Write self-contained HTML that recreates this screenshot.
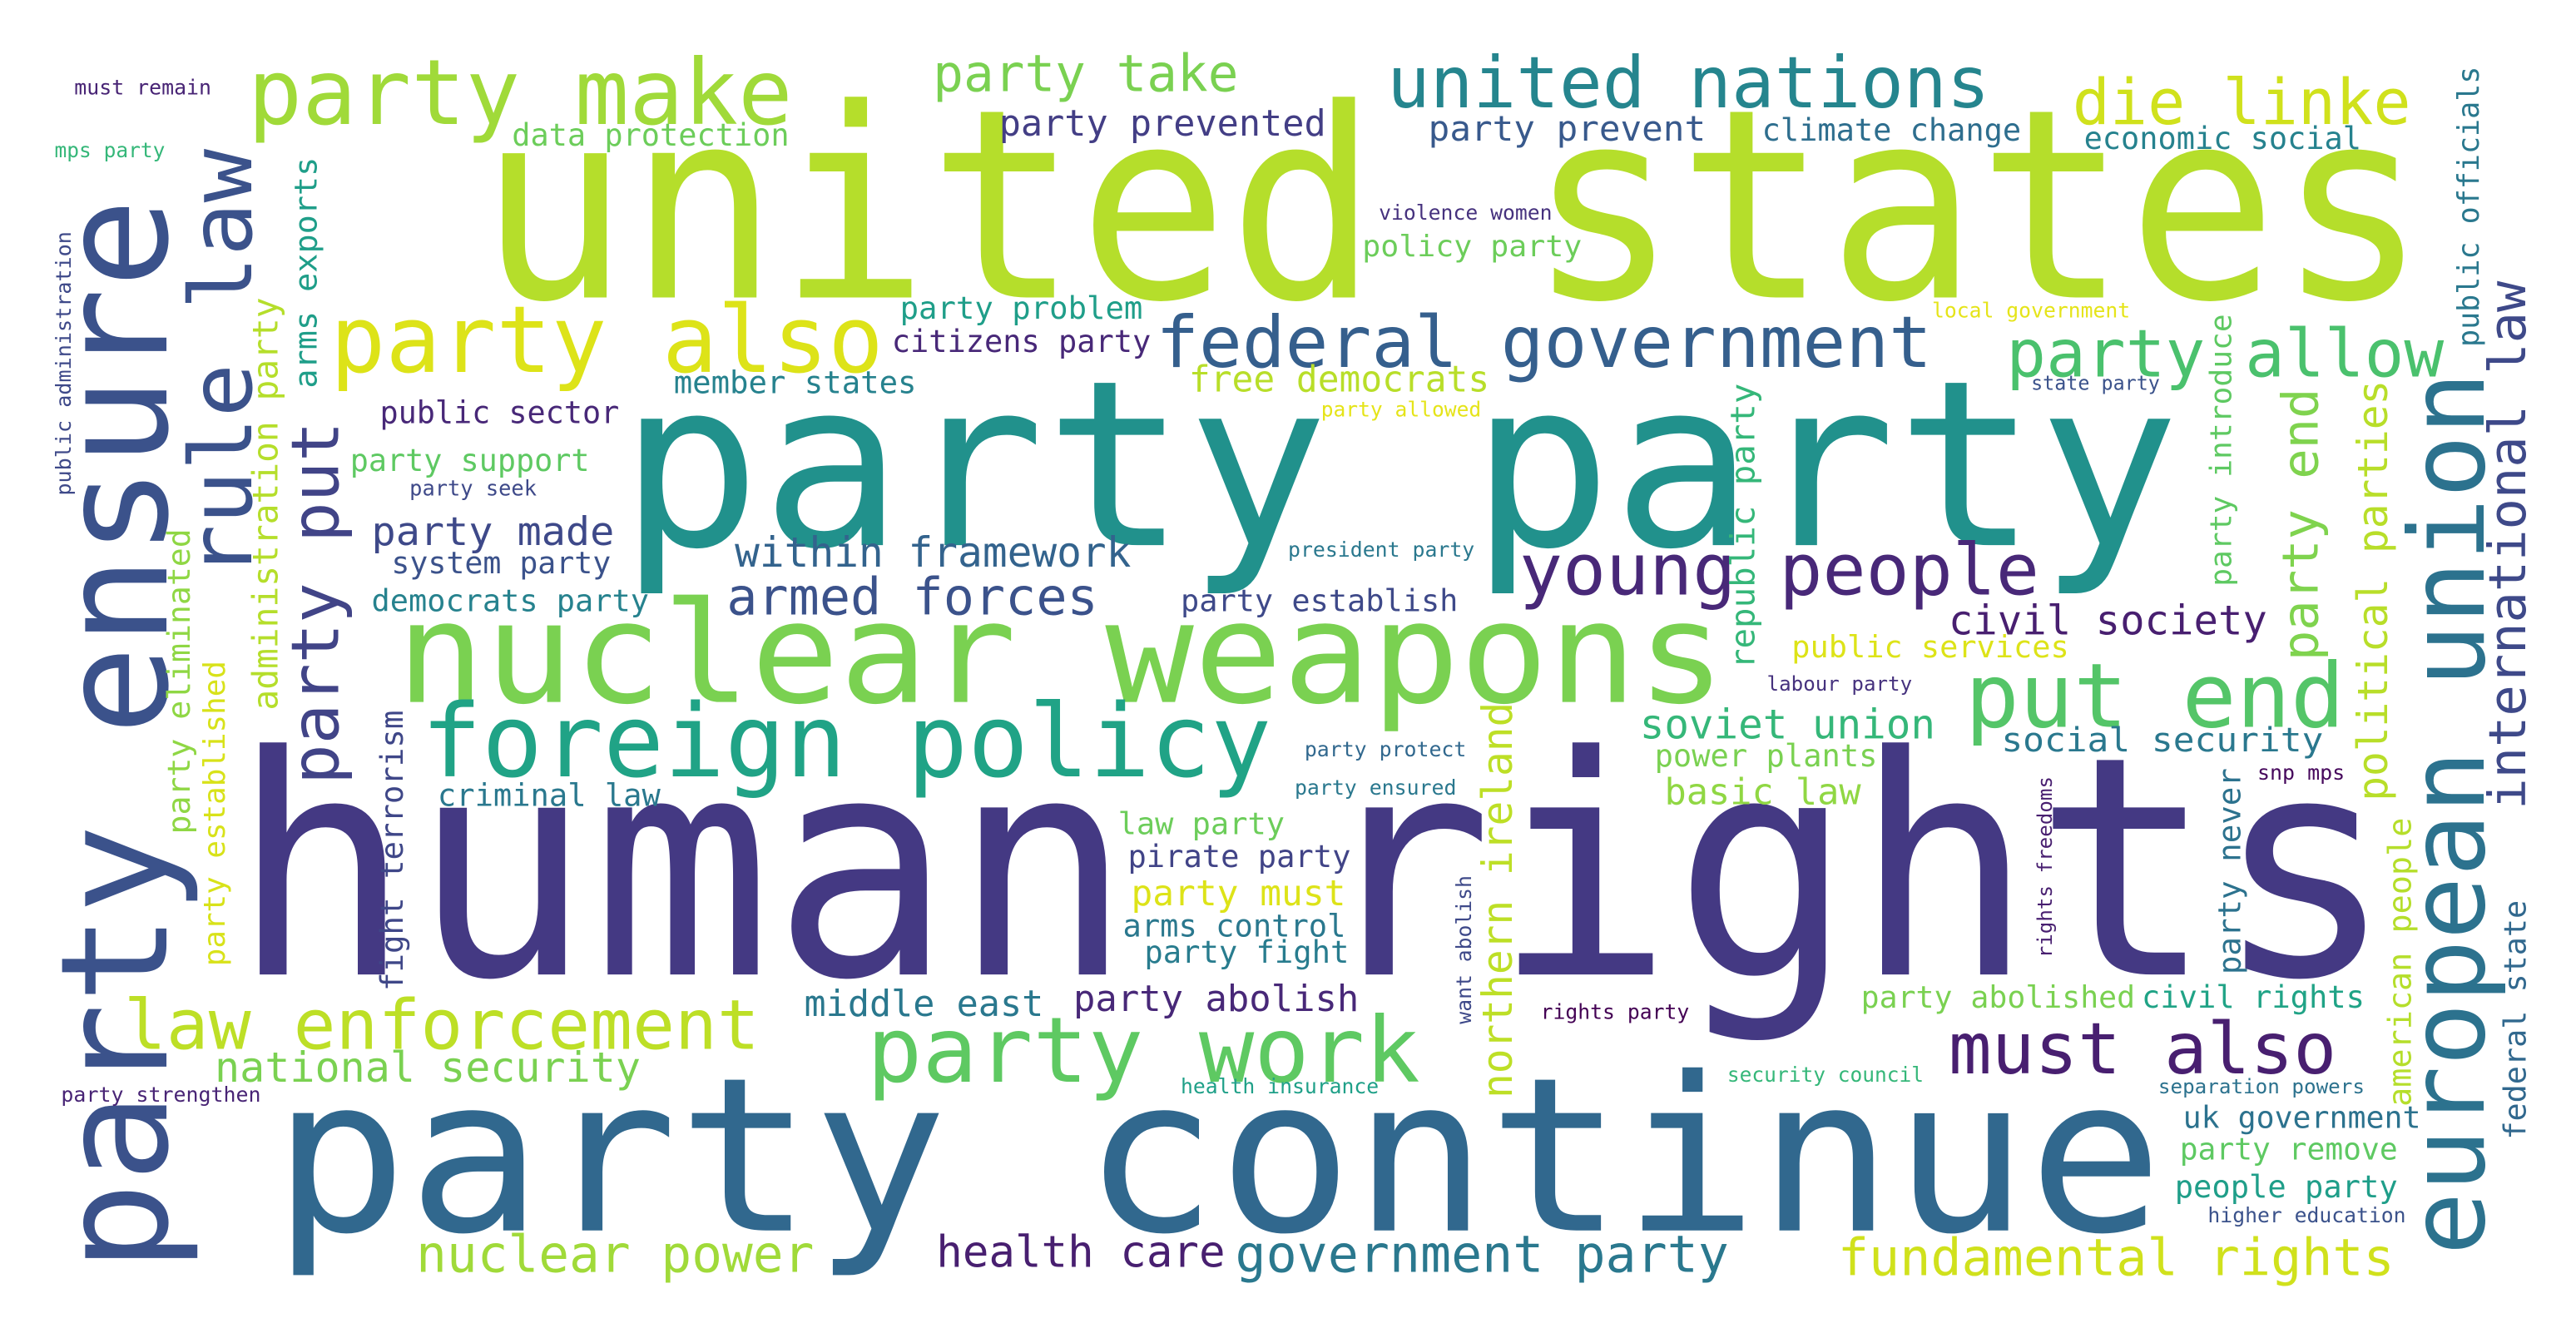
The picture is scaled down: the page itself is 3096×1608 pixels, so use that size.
<!DOCTYPE html>
<html><head><meta charset="utf-8"><title>Word cloud</title>
<style>html,body{margin:0;padding:0;background:#fff;}svg{display:block;}
text{font-family:"DejaVu Sans Mono","Liberation Mono",monospace;}</style></head>
<body>
<svg id="cloud" width="3096" height="1608" viewBox="0 0 1560 810" xmlns="http://www.w3.org/2000/svg">
<rect width="1560" height="810" fill="#fff"/>
</svg>
<script>
const words=["united states","human rights","party party","party continue","nuclear weapons","party ensure","european union","foreign policy","party also","party make","united nations","die linke","federal government","party allow","rule law","party put","young people","put end","law enforcement","party work","must also","international law","political parties","party end","armed forces","within framework","party made","party take","party prevented","party prevent","climate change","economic social","data protection","must remain","mps party","public administration","arms exports","administration party","party eliminated","party established","fight terrorism","violence women","policy party","local government","public officials","party problem","citizens party","member states","free democrats","state party","party allowed","public sector","party support","party seek","system party","democrats party","president party","party establish","republic party","party introduce","civil society","public services","labour party","soviet union","social security","power plants","basic law","party protect","party ensured","northern ireland","criminal law","law party","pirate party","party must","arms control","party fight","middle east","party abolish","want abolish","rights party","rights freedoms","snp mps","party never","american people","federal state","party abolished","civil rights","national security","party strengthen","health insurance","security council","separation powers","uk government","party remove","people party","higher education","nuclear power","health care","government party","fundamental rights"];
const sizes=[160,185,140,130,85,90,63,61,56,55,43,38,43,40,52,40,43,54,42,55,43,31,25,30,31,25,24,31,22,21,19,19,19,12.5,12.5,12.7,19,21,19,18,19,12.5,18,12.5,18,19,19,19,22,12,12.4,19,19,12.8,18.5,18.6,12.5,18.6,20,18,24.6,18.6,12,24.8,20,18.7,22,12.6,12.6,25,18.7,18.6,18.7,21.6,18.7,18.7,21.9,22,12.5,12.5,12.2,12.6,18.9,19.4,18.6,18.4,18.7,25,12.6,12.5,12.4,12.3,18.4,18.3,18.7,12.5,30.8,26.4,31,31];
const colors=["#b5de2b","#443983","#21918c","#31688e","#7ad151","#3b528b","#2c728e","#20a386","#dde318","#a0da39","#25858e","#d0e11c","#355f8d","#4ac16d","#3b528b","#414487","#482878","#54c568","#bddf26","#5ec962","#481f70","#3e4989","#b8de29","#7fd34e","#3b528b","#33638d","#3e4989","#7ad151","#433e85","#38598c","#2e6e8e","#26828e","#6ccd5a","#482475","#35b779","#3e4989","#1f9e89","#b5de2b","#8fd744","#d8e219","#3f4788","#46327e","#6ccd5a","#e5e419","#2a788e","#1f9e89","#482878","#26828e","#b8de29","#3b528b","#e5e419","#482878","#5ec962","#3e4989","#3b528b","#26828e","#2a788e","#3e4989","#35b779","#5ec962","#481f70","#dde318","#46327e","#35b779","#2a788e","#7ad151","#90d743","#31688e","#2a788e","#bddf26","#2a788e","#6ccd5a","#414487","#dde318","#2a788e","#287c8e","#2a788e","#482878","#3e4989","#440154","#481f70","#46085c","#2c728e","#b5de2b","#31688e","#7ad151","#20a386","#7ad151","#482475","#1fa088","#35b779","#2c728e","#2c728e","#5ec962","#1f9e89","#3b528b","#a0da39","#481f70","#2a788e","#d0e11c"];
const vertical=[0,0,0,0,0,1,1,0,0,0,0,0,0,0,1,1,0,0,0,0,0,1,1,1,0,0,0,0,0,0,0,0,0,0,0,1,1,1,1,1,1,0,0,0,1,0,0,0,0,0,0,0,0,0,0,0,0,0,1,1,0,0,0,0,0,0,0,0,0,1,0,0,0,0,0,0,0,0,1,0,1,0,1,1,1,0,0,0,0,0,0,0,0,0,0,0,0,0,0,0];
const boxA=[290,140,375,165,240,45,1465,255,200,150,840,1255,700,1215,120,180,920,1190,75,525,1180,1510,1430,1385,440,445,225,565,605,865,1067,1262,310,45,33,35,180,155,103,125,232,835,825,1170,1490,545,540,408,720,1230,800,230,212,248,237,225,780,715,1050,1340,1180,1085,1070,993,1212,1002,1008,790,784,900,265,677,683,685,680,693,487,650,883,933,1235,1367,1345,1448,1518,1127,1297,130,37,715,1046,1307,1322,1320,1317,1337,252,567,748,1113];
const boxB=[1470,1450,1320,1310,1045,120,225,770,535,480,1205,1460,1170,1480,90,255,1235,1420,460,860,1415,170,230,235,665,685,372,750,803,1033,1224,1430,478,128,100,140,95,180,320,400,430,940,958,1290,40,692,697,555,902,1308,897,375,357,325,370,393,893,883,232,190,1373,1253,1158,1172,1407,1137,1127,888,882,425,400,778,818,815,815,817,632,823,530,1023,470,1420,465,495,545,1293,1432,388,158,835,1165,1432,1466,1452,1452,1457,493,742,1047,1450];
const boxC=[180,590,330,745,425,770,760,470,225,75,65,75,222,228,350,475,360,440,635,655,650,490,485,400,372,343,330,55,82,85,85,90,88,57,95,300,235,430,505,585,600,133,155,192,210,193,213,238,237,236,252,256,285,300,347,370,337,370,405,355,384,398,418,447,455,464,487,458,481,665,488,505,525,548,567,583,615,612,620,617,580,472,590,670,690,610,610,655,667,662,655,662,683,702,725,740,770,767,770,772];
const svg=document.getElementById('cloud');
const NS='http://www.w3.org/2000/svg';
for(let i=0;i<words.length;i++){
  const t=document.createElementNS(NS,'text');
  
  
  const s=sizes[i];
  t.setAttribute('font-size',s);
  t.setAttribute('fill',colors[i]);
  t.setAttribute('lengthAdjust','spacingAndGlyphs');
  if(vertical[i]){
    const x=boxA[i]+0.62*s, top=boxB[i], bot=boxC[i];
    t.setAttribute('transform','translate('+x+','+bot+') rotate(-90)');
    t.setAttribute('textLength',bot-top);
  } else {
    t.setAttribute('x',boxA[i]);
    t.setAttribute('y',boxC[i]);
    t.setAttribute('textLength',boxB[i]-boxA[i]);
  }
  t.textContent=words[i];
  svg.appendChild(t);
}
</script>
</body></html>
